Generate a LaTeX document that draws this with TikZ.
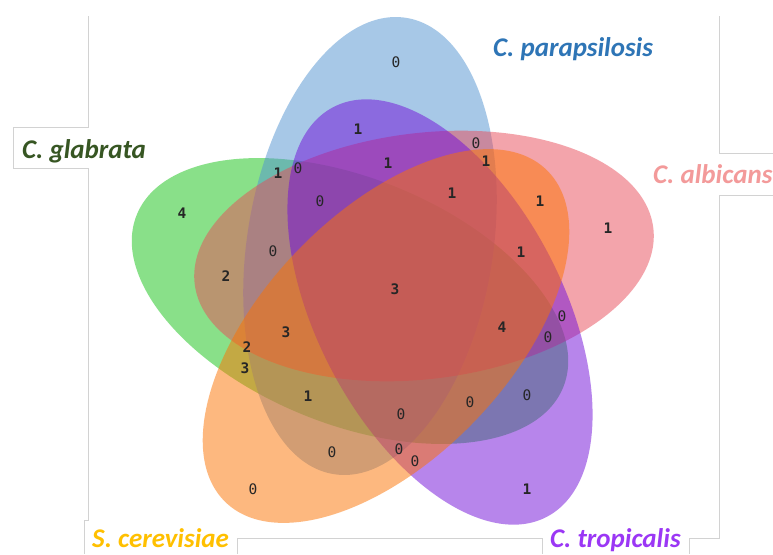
\documentclass[tikz,border=0pt]{standalone}
\usepackage{fontspec}
\setmainfont{Carlito}
\newfontfamily\monof{DejaVu Sans Mono}
\begin{document}
\begin{tikzpicture}[x=1pt,y=-1pt]
\definecolor{cgreen}{RGB}{20,195,20}
\definecolor{cblue}{RGB}{81,147,209}
\definecolor{cpink}{RGB}{233,75,89}
\definecolor{cpurple}{RGB}{113,13,217}
\definecolor{corange}{RGB}{253,115,0}
\definecolor{lgreen}{RGB}{55,86,35}
\definecolor{lblue}{RGB}{46,117,182}
\definecolor{lpink}{RGB}{243,154,154}
\definecolor{lgold}{RGB}{255,192,0}
\definecolor{lpurple}{RGB}{155,55,245}
\definecolor{framegray}{RGB}{210,210,210}
\tikzset{
  setfill/.style={fill=#1, fill opacity=0.5},
  frame/.style={draw=framegray, line width=0.8pt},
  num/.style={inner sep=0pt, font=\monof\bfseries\fontsize{14.5}{14.5}\selectfont, text=black!85},
  zero/.style={inner sep=0pt, font=\monof\fontsize{14.5}{14.5}\selectfont, text=black!85},
  setlabel/.style={inner sep=0pt, anchor=base west, font=\bfseries\itshape\fontsize{27}{31}\selectfont}
}
\useasboundingbox (0,0) rectangle (773,554);
\fill[white] (0,0) rectangle (773,554);
% frame lines
\draw[frame] (88,16) -- (88,127) -- (13,127) -- (13,168) -- (88,168) -- (88,520) -- (84,520) -- (84,554);
\draw[frame] (237,554) -- (237,538) -- (542,538) -- (542,554);
\draw[frame] (689,554) -- (689,538) -- (719,538) -- (719,195) -- (773,195);
\draw[frame] (773,153) -- (719,153) -- (719,16);
% sets (drawing order: green, blue, pink, purple, orange)
\fill[setfill=cgreen, rotate around={-22:(350,301)}] (350,301) ellipse [x radius=230, y radius=123];
\fill[setfill=cblue, rotate around={81:(370,246)}] (370,246) ellipse [x radius=231, y radius=123];
\fill[setfill=cpink, rotate around={7:(424,256)}] (424,256) ellipse [x radius=231, y radius=123];
\fill[setfill=cpurple, rotate around={-62.5:(440,312)}] (440,312) ellipse [x radius=231, y radius=123];
\fill[setfill=corange, rotate around={46:(386,336)}] (386,336) ellipse [x radius=231, y radius=123];
% labels
\node[setlabel, text=lblue] (lpar) at (493,56) {C. parapsilosis};
\node[setlabel, text=lpink] (lalb) at (653,183) {C. albicans};
\node[setlabel, text=lgreen] (lgla) at (22,158) {C. glabrata};
\node[setlabel, text=lgold] (lcer) at (92,547) {S. cerevisiae};
\node[setlabel, text=lpurple] (ltro) at (550,547) {C. tropicalis};
% counts
\node[zero] (n1) at (396,62) {0};
\node[num] (n2) at (358,129) {1};
\node[num] (n3) at (388,163) {1};
\node[zero] (n4) at (298,168) {0};
\node[num] (n5) at (278,173) {1};
\node[num] (n6) at (182,213) {4};
\node[zero] (n7) at (320,201) {0};
\node[zero] (n8) at (273,251) {0};
\node[num] (n9) at (226,276) {2};
\node[zero] (n10) at (476,143) {0};
\node[num] (n11) at (486,161) {1};
\node[num] (n12) at (452,193) {1};
\node[num] (n13) at (540,201) {1};
\node[num] (n14) at (608,228) {1};
\node[num] (n15) at (521,252) {1};
\node[num] (n16) at (286,332) {3};
\node[num] (n17) at (247,347) {2};
\node[num] (n18) at (245,368) {3};
\node[num] (n19) at (308,396) {1};
\node[zero] (n20) at (401,414) {0};
\node[zero] (n21) at (332,452) {0};
\node[zero] (n22) at (399,449) {0};
\node[zero] (n23) at (415,461) {0};
\node[zero] (n24) at (253,489) {0};
\node[num] (n25) at (502,327) {4};
\node[zero] (n26) at (562,316) {0};
\node[zero] (n27) at (548,337) {0};
\node[zero] (n28) at (470,402) {0};
\node[zero] (n29) at (527,395) {0};
\node[num] (n30) at (527,489) {1};
\node[num] (n31) at (395,289) {3};
\end{tikzpicture}
\end{document}
